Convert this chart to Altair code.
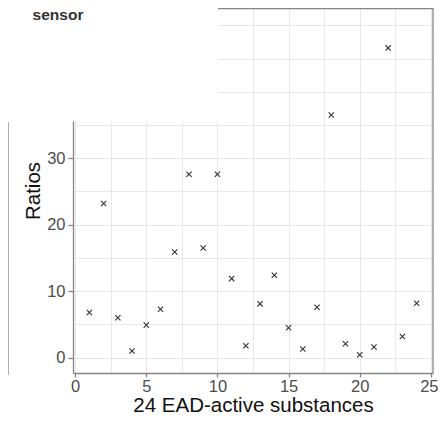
import altair as alt
import pandas as pd

# data
substance = list(range(1, 25))
ratios = [6.8, 23.2, 6.0, 1.0, 4.9, 7.3, 15.9, 27.6, 16.5, 27.6, 11.9, 1.8,
          8.1, 12.4, 4.5, 1.3, 7.6, 36.5, 2.1, 0.45, 1.6, 46.6, 3.2, 8.2]

x_grid_values = [0, 2.5, 5, 7.5, 10, 12.5, 15, 17.5, 20, 22.5, 25]
y_grid_values = [0, 5, 10, 15, 20, 25, 30, 35, 40, 45, 50]
x_domain = [-0.15, 25.15]
y_domain = [-2.3, 52.6]
panel_label_top = "ANTENNAL"
panel_label_bottom = "sensor"

df = pd.DataFrame({"substance": substance, "ratio": ratios})

FONT = "Liberation Sans"
AX = "#858585"

xs = alt.Scale(domain=x_domain, nice=False, zero=False)
ys = alt.Scale(domain=y_domain, nice=False, zero=False)

points = alt.Chart(df).mark_point(
    shape="M-1,-1L1,1M1,-1L-1,1", size=28, filled=False,
    stroke="#333333", strokeWidth=1.1, opacity=1
).encode(
    x=alt.X("substance:Q", scale=xs, title="24 EAD-active substances",
            axis=alt.Axis(values=x_grid_values,
                          labelExpr="datum.value % 5 === 0 ? datum.label : ''",
                          tickOpacity={"condition": {"test": "datum.value % 5 === 0", "value": 1}, "value": 0},
                          labelOffset={"condition": {"test": "datum.value === 25", "value": -2}, "value": 0},
                          grid=True, gridColor="#e8e8e8", gridWidth=1,
                          domainColor=AX, domainWidth=1.3, tickColor=AX, tickWidth=1.3,
                          tickSize=4, labelPadding=1, labelFontSize=16.5,
                          labelColor="#4d4d4d", labelFont=FONT, labelFlush=False,
                          labelOverlap=False, labelBound=False,
                          titleFont=FONT, titleFontSize=20.5,
                          titleFontWeight="normal", titleColor="#111111",
                          titlePadding=1)),
    y=alt.Y("ratio:Q", scale=ys, title="Ratios",
            axis=alt.Axis(values=y_grid_values,
                          labelExpr="datum.value % 10 === 0 ? datum.label : ''",
                          tickOpacity={"condition": {"test": "datum.value % 10 === 0", "value": 1}, "value": 0},
                          grid=True, gridColor="#e8e8e8", gridWidth=1,
                          domainColor=AX, domainWidth=1.3, tickColor=AX, tickWidth=1.3,
                          tickSize=5, labelPadding=3, labelFontSize=16.5,
                          labelColor="#4d4d4d", labelFont=FONT,
                          labelOverlap=False, labelFlush=False,
                          titleFont=FONT, titleFontSize=20.5,
                          titleFontWeight="normal", titleColor="#111111",
                          titlePadding=3)),
)

one = alt.Data(values=[{}])

top_edge = alt.Chart(one).mark_rule(color=AX, strokeWidth=1.3).encode(
    x=alt.value(140), x2=alt.value(360), y=alt.value(0.6)
)
right_edge = alt.Chart(one).mark_rule(color=AX, strokeWidth=1.3).encode(
    x=alt.value(360), y=alt.value(0), y2=alt.value(365)
)

cover = alt.Chart(one).mark_rect(color="white").encode(
    x=alt.value(-70), x2=alt.value(145), y=alt.value(-10), y2=alt.value(113.5)
)

left_panel_edge = alt.Chart(one).mark_rule(color=AX, strokeWidth=1.3).encode(
    x=alt.value(-65), y=alt.value(114), y2=alt.value(367)
)

label_top = alt.Chart(one).mark_text(
    text=panel_label_top, font=FONT, fontSize=15.5, fontWeight="bold",
    color="#333333", align="center", baseline="middle"
).encode(x=alt.value(-15), y=alt.value(-14))

label_bottom = alt.Chart(one).mark_text(
    text=panel_label_bottom, font=FONT, fontSize=15.5, fontWeight="bold",
    color="#333333", align="center", baseline="middle"
).encode(x=alt.value(-15), y=alt.value(6.5))

chart = alt.layer(points, top_edge, right_edge, cover, left_panel_edge,
                  label_top, label_bottom).properties(
    width=360, height=365,
    autosize=alt.AutoSizeParams(type="none"),
    padding={"left": 65, "top": 0, "right": 5, "bottom": 41},
).configure_view(stroke=None)

chart.save("out.html", embed_options={"renderer": "svg", "actions": False})
